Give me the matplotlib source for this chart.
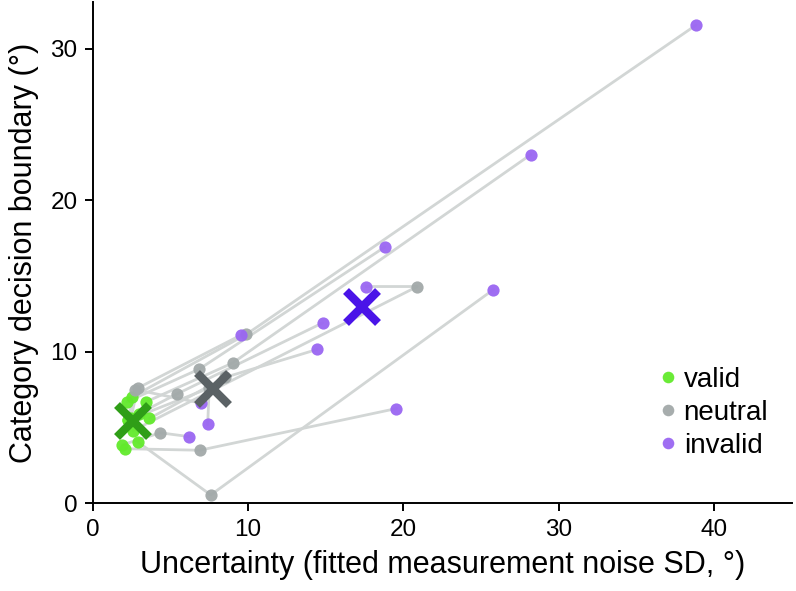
import matplotlib
matplotlib.use("Agg")
import matplotlib.pyplot as plt
import numpy as np

plt.rcParams['font.family'] = ['Liberation Sans', 'DejaVu Sans']

# per-subject fitted values (x = uncertainty, y = decision boundary)
valid_x = [2.5, 3.45, 2.9, 2.6, 2.1, 1.87, 2.2, 3.65, 2.95, 2.3, 2.45, 2.25]
valid_y = [7.0, 6.7, 4.05, 4.8, 3.6, 3.85, 6.7, 5.6, 5.9, 5.5, 5.6, 5.5]
neutral_x = [9.9, 9.0, 7.6, 20.9, 6.9, 4.35, 6.85, 8.5, 5.4, 7.5, 2.9, 2.75]
neutral_y = [11.15, 9.25, 0.55, 14.3, 3.5, 4.65, 8.85, 8.3, 7.2, 7.6, 7.6, 7.5]
invalid_x = [38.85, 28.2, 25.8, 17.6, 19.55, 6.2, 18.8, 14.45, 14.8, 7.4, 9.55, 7.0]
invalid_y = [31.55, 23.0, 14.1, 14.3, 6.25, 4.4, 16.9, 10.15, 11.9, 5.2, 11.1, 6.6]

conditions = ["valid", "neutral", "invalid"]
dot_colors = ["#62ea2c", "#a2a9a9", "#9a66f2"]
mean_colors = ["#2f9e17", "#5b6265", "#4a14e8"]
line_color = "#d2d6d5"

fig = plt.figure(figsize=(7.96, 5.91), dpi=100)
ax = fig.add_axes([0.1165, 0.1484, 0.878, 0.849])

for i in range(len(valid_x)):
    ax.plot([valid_x[i], neutral_x[i], invalid_x[i]],
            [valid_y[i], neutral_y[i], invalid_y[i]],
            color=line_color, lw=2, zorder=1, solid_capstyle='round')

xs = [valid_x, neutral_x, invalid_x]
ys = [valid_y, neutral_y, invalid_y]
for xv, yv, c, lab in zip(xs, ys, dot_colors, conditions):
    ax.plot(xv, yv, 'o', ms=8.8, color=c, mec='none', alpha=0.95, zorder=2, label=lab,
            linestyle='none')

for xv, yv, c in zip(xs, ys, mean_colors):
    ax.plot(np.mean(xv), np.mean(yv), marker='x', ms=23, mew=6, color=c, zorder=3,
            linestyle='none')

ax.set_xlim(0, 45)
ax.set_ylim(0, 33.1)
ax.set_xticks([0, 10, 20, 30, 40])
ax.set_yticks([0, 10, 20, 30])
for s in ['top', 'right']:
    ax.spines[s].set_visible(False)
for s in ['left', 'bottom']:
    ax.spines[s].set_linewidth(1.4)
ax.tick_params(axis='both', direction='out', length=6, width=1.4, labelsize=17.5, pad=5)

ax.set_xlabel("Uncertainty (fitted measurement noise SD, °)", fontsize=22, labelpad=7)
ax.set_ylabel("Category decision boundary (°)", fontsize=22, labelpad=8)

leg = ax.legend(loc='upper left', bbox_to_anchor=(0.78, 0.31), frameon=False,
                fontsize=20, handletextpad=0.15, labelspacing=0.25, handlelength=0.8,
                markerscale=0.95, borderpad=0.2)

fig.savefig("out.png", dpi=100)
